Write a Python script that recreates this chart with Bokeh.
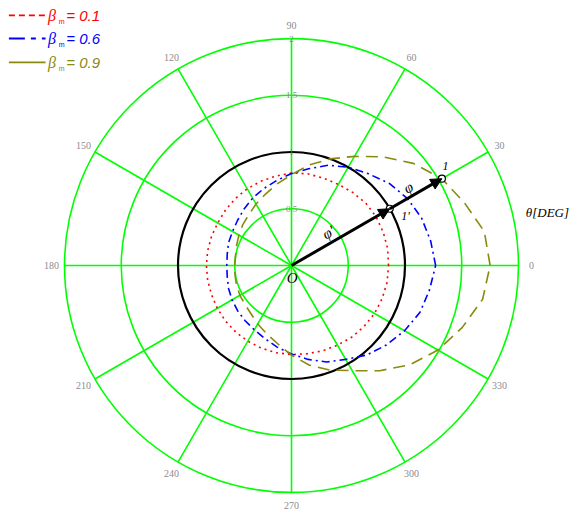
import numpy as np
from bokeh.plotting import figure
from bokeh.models import Range1d, Arrow, NormalHead
from bokeh.core.properties import value
from bokeh.embed import file_html
from bokeh.resources import INLINE

# ---- data ----
angles_deg = [0, 10, 20, 30, 40, 50, 60, 70, 80, 90, 100, 110,
              120, 130, 140, 150, 160, 170, 180, 190, 200, 210, 220, 230,
              240, 250, 260, 270, 280, 290, 300, 310, 320, 330, 340, 350]
r_beta01 = [0.855, 0.86, 0.86, 0.86, 0.855, 0.84, 0.825, 0.82, 0.82, 0.815, 0.80, 0.79,
            0.78, 0.77, 0.76, 0.75, 0.75, 0.75, 0.75, 0.75, 0.75, 0.755, 0.76, 0.765,
            0.77, 0.775, 0.78, 0.785, 0.79, 0.80, 0.81, 0.825, 0.835, 0.845, 0.85, 0.855]
r_beta06 = [1.27, 1.245, 1.22, 1.18, 1.125, 1.055, 1.00, 0.94, 0.865, 0.81, 0.76, 0.72,
            0.685, 0.65, 0.62, 0.60, 0.59, 0.575, 0.57, 0.575, 0.59, 0.605, 0.62, 0.635,
            0.655, 0.685, 0.73, 0.78, 0.84, 0.905, 0.955, 1.03, 1.09, 1.15, 1.205, 1.235]
r_beta09 = [1.75, 1.725, 1.62, 1.53, 1.40, 1.25, 1.11, 1.00, 0.90, 0.80, 0.73, 0.67,
            0.625, 0.585, 0.56, 0.535, 0.515, 0.50, 0.50, 0.505, 0.515, 0.525, 0.535, 0.555,
            0.595, 0.64, 0.70, 0.79, 0.89, 0.98, 1.07, 1.21, 1.36, 1.49, 1.60, 1.71]
series_labels = ["0.1", "0.6", "0.9"]
ring_radii = [0.5, 1.0, 1.5, 2.0]
ring_labels = ["0.5", "1", "1.5", "2"]
spoke_angles = [0, 30, 60, 90, 120, 150, 180, 210, 240, 270, 300, 330]
spoke_labels = ["0", "30", "60", "90", "120", "150", "180", "210", "240", "270", "300", "330"]
phi_deg = 30
r_point1p = 1.0
r_point1 = 1.53

# ---- layout ----
S = 113.5          # px per unit
W, H = 580, 514
cx, cy = 291, 265  # centre in figure pixels (from top-left)

p = figure(width=W, height=H, output_backend="svg", toolbar_location=None,
           x_range=Range1d(-cx / S, (W - cx) / S), y_range=Range1d(-(H - cy) / S, cy / S),
           x_axis_type=None, y_axis_type=None, min_border=0)
p.outline_line_color = None
p.grid.visible = False
p.background_fill_color = "white"

GREEN = "#00ff00"
RED = "#ff0000"
BLUE = "#0000ff"
OLIVE = "#8a8a10"
GRAY = "#8c8c8c"

# rings
for r in ring_radii:
    if r == 1.0:
        continue
    p.circle(x=0, y=0, radius=r, fill_color=None, line_color=GREEN, line_width=1.6)
# spokes
sa = np.radians(spoke_angles)
p.segment(x0=np.zeros(len(sa)), y0=np.zeros(len(sa)), x1=2.0 * np.cos(sa), y1=2.0 * np.sin(sa),
          line_color=GREEN, line_width=1.6)
# unit circle in black
p.circle(x=0, y=0, radius=1.0, fill_color=None, line_color="black", line_width=2.2)

# curves
def closed_xy(r):
    th = np.radians(angles_deg + [angles_deg[0]])
    rr = np.array(r + [r[0]])
    return rr * np.cos(th), rr * np.sin(th)

for r, col, dash in [(r_beta01, RED, "2 4"), (r_beta06, BLUE, "8 4 2 4"), (r_beta09, OLIVE, "12 7")]:
    x, y = closed_xy(r)
    p.line(x, y, line_color=col, line_width=1.6, line_dash=dash)

# angle labels
lab_r = 2.115
p.text(x=lab_r * np.cos(sa), y=lab_r * np.sin(sa), text=spoke_labels,
       text_font=value("Liberation Serif"), text_font_size="10px", text_color=GRAY,
       text_align="center", text_baseline="middle")
# ring labels on the 90 degree spoke
p.text(x=[0] * len(ring_radii), y=ring_radii, text=ring_labels,
       text_font=value("Liberation Serif"), text_font_size="9px", text_color=GRAY,
       text_align="center", text_baseline="middle")

# arrow construction
ph = np.radians(phi_deg)
x1p, y1p = r_point1p * np.cos(ph), r_point1p * np.sin(ph)
x1, y1 = r_point1 * np.cos(ph), r_point1 * np.sin(ph)
p.add_layout(Arrow(end=NormalHead(size=11, fill_color="black", line_color="black"),
                   x_start=0, y_start=0, x_end=x1p, y_end=y1p, line_width=3, line_color="black"))
p.add_layout(Arrow(end=NormalHead(size=11, fill_color="black", line_color="black"),
                   x_start=x1p, y_start=y1p, x_end=x1, y_end=y1, line_width=3, line_color="black"))
p.scatter(x=[x1p, x1], y=[y1p, y1], marker="circle", size=7, fill_color="white",
          line_color="black", line_width=1.2)

txt = dict(text_font=value("Liberation Serif"), text_font_style="italic", text_color="black",
           text_align="center", text_baseline="middle")
p.text(x=[0.006], y=[-0.106], text=["O"], text_font_size="15px", **txt)
p.text(x=[0.326], y=[0.291], text=["φ'"], text_font_size="15px", angle=ph, **txt)
p.text(x=[1.03], y=[0.687], text=["φ"], text_font_size="15px", angle=ph, **txt)
p.text(x=[1.004], y=[0.44], text=["1'"], text_font_size="12px", **txt)
p.text(x=[1.357], y=[0.881], text=["1"], text_font_size="12px", **txt)
p.text(x=[2.255], y=[0.467], text=["θ[DEG]"], text_font_size="13px", **txt)

# legend (drawn manually)
leg_y = [2.203, 2.0, 1.789]
leg_cols = [RED, BLUE, OLIVE]
leg_dash = ["6 4", "16 6 5 6", "solid"]
x_l0, x_l1 = -2.49, -2.167
for yy, col, dsh, lab in zip(leg_y, leg_cols, leg_dash, series_labels):
    p.line([x_l0, x_l1], [yy, yy], line_color=col, line_width=1.8, line_dash=dsh)
    p.text(x=[-2.145], y=[yy], text=["β"], text_font=value("Liberation Serif"),
           text_font_style="italic", text_font_size="16px", text_color=col,
           text_align="left", text_baseline="middle")
    p.text(x=[-2.05], y=[yy - 0.05], text=["m"], text_font=value("Liberation Sans"),
           text_font_size="7px", text_color=col, text_align="left", text_baseline="middle")
    p.text(x=[-1.985], y=[yy], text=["= " + lab], text_font=value("Liberation Sans"),
           text_font_style="italic", text_font_size="15px", text_color=col,
           text_align="left", text_baseline="middle")

open("out.html", "w").write(file_html(p, INLINE))
